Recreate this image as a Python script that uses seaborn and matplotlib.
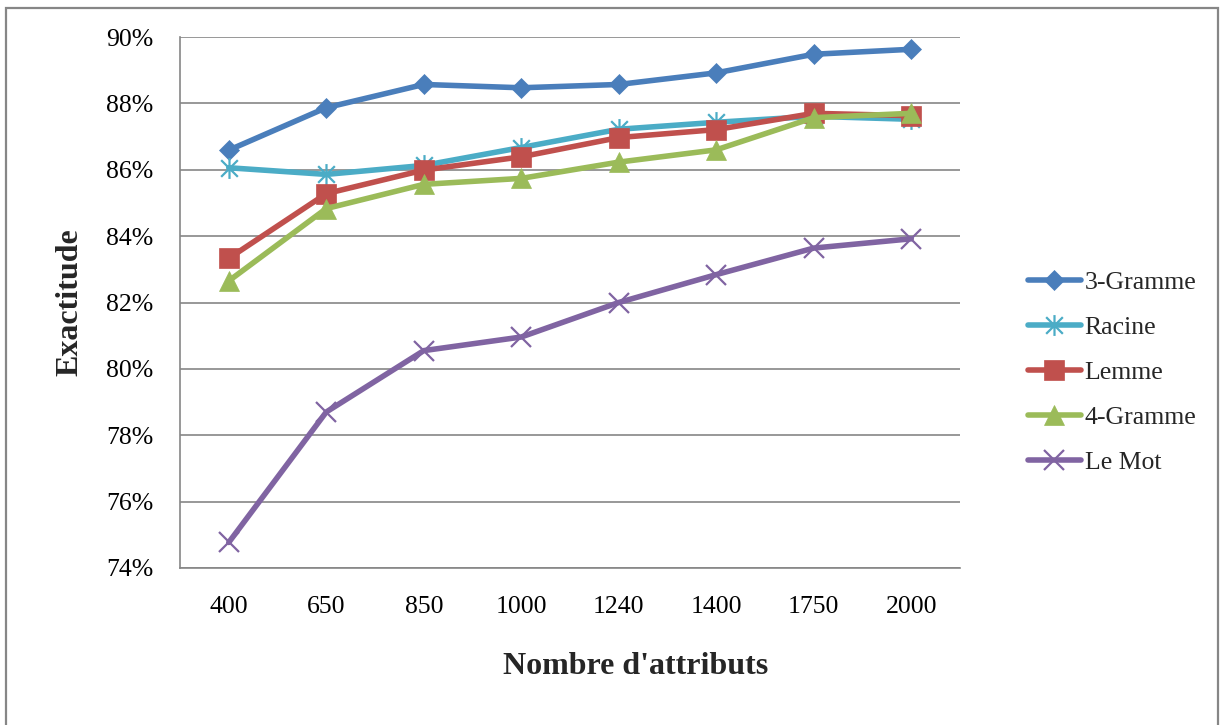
import matplotlib
matplotlib.use("Agg")
import matplotlib.pyplot as plt
from matplotlib.patches import Rectangle
from matplotlib.path import Path
from matplotlib.ticker import FuncFormatter, MultipleLocator
import seaborn as sns
import pandas as pd

# Number of attributes (categorical x axis)
attributs = ["400", "650", "850", "1000", "1240", "1400", "1750", "2000"]

# Accuracy (%) for each feature representation
gramme3 = [86.59, 87.87, 88.57, 88.47, 88.57, 88.92, 89.48, 89.63]
racine = [86.06, 85.86, 86.13, 86.67, 87.22, 87.43, 87.61, 87.52]
lemme = [83.33, 85.28, 85.99, 86.39, 86.97, 87.21, 87.70, 87.63]
gramme4 = [82.65, 84.83, 85.56, 85.74, 86.23, 86.60, 87.57, 87.70]
le_mot = [74.77, 78.70, 80.55, 80.96, 82.00, 82.84, 83.64, 83.92]

series = ["3-Gramme", "Racine", "Lemme", "4-Gramme", "Le Mot"]
values = [gramme3, racine, lemme, gramme4, le_mot]

df = pd.DataFrame(
    [(s, a, v) for s, vals in zip(series, values) for a, v in zip(attributs, vals)],
    columns=["serie", "attributs", "exactitude"],
)

# star marker: an X crossed by a vertical stroke
star = Path(
    [(-1, -1), (1, 1), (-1, 1), (1, -1), (0, -1.25), (0, 1.25)],
    [Path.MOVETO, Path.LINETO, Path.MOVETO, Path.LINETO, Path.MOVETO, Path.LINETO],
)

colors = ["#4A7EBB", "#4BACC6", "#C0504D", "#9BBB59", "#8064A2"]
markers = ["D", star, "s", "^", "x"]
msizes = [10.5, 15, 14, 14.5, 14]
thin = [False, True, False, False, True]

sns.set_theme(style="white")
plt.rcParams["font.family"] = ["Liberation Serif", "DejaVu Serif"]

fig = plt.figure(figsize=(12.22, 7.25), dpi=100)
ax = fig.add_axes([180 / 1222, 1 - 568 / 725, 780 / 1222, 531 / 725])

# outer chart border
fig.patches.append(Rectangle((5.5 / 1222, -0.1), 1212.5 / 1222, 1.1 - 8.5 / 725,
                             transform=fig.transFigure, fill=False,
                             edgecolor="#868686", linewidth=1.6, zorder=0))

for name, col, mk, ms, th in zip(series, colors, markers, msizes, thin):
    sub = df[df["serie"] == name]
    sns.lineplot(data=sub, x="attributs", y="exactitude", ax=ax, color=col,
                 linewidth=4, marker=mk, markersize=ms,
                 markeredgecolor=col, markerfacecolor=col,
                 markeredgewidth=1.6 if th else 0.5,
                 label=name, sort=False)

ax.set_xlim(-0.5, len(attributs) - 0.5)
ax.set_ylim(74, 90)
ax.yaxis.set_major_locator(MultipleLocator(2))
ax.yaxis.set_major_formatter(FuncFormatter(lambda v, _: f"{v:.0f}%"))
ax.grid(axis="y", color="#868686", linewidth=1.2)
ax.grid(axis="x", visible=False)
ax.set_axisbelow(True)

for side in ("top", "right"):
    ax.spines[side].set_visible(False)
for side in ("left", "bottom"):
    ax.spines[side].set_color("#868686")
    ax.spines[side].set_linewidth(1.2)

ax.tick_params(axis="both", length=0, labelsize=18.5, colors="black")
ax.tick_params(axis="x", pad=20)
ax.tick_params(axis="y", pad=19)

ax.set_xlabel("Nombre d'attributs", fontsize=23, fontweight="bold",
              va="center", ha="center")
ax.xaxis.set_label_coords((636 - 180) / 780, (568 - 667) / 531)
ax.set_ylabel("Exactitude", fontsize=23, fontweight="bold",
              va="center", ha="center")
ax.yaxis.set_label_coords((70 - 180) / 780, 0.5)

ax.legend(loc="center left", bbox_to_anchor=(1028 / 1222, 1 - 372.5 / 725),
          bbox_transform=fig.transFigure, frameon=False, fontsize=18.5,
          handlelength=2.05, handletextpad=0.15, labelspacing=0.86,
          borderpad=0, borderaxespad=0)

fig.savefig("out.png", dpi=100, facecolor="white")
